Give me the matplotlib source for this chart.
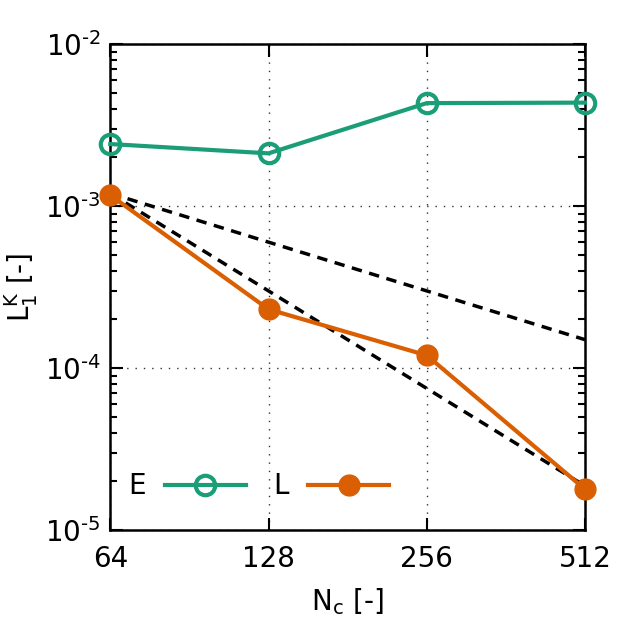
import numpy as np
import matplotlib
matplotlib.use('Agg')
import matplotlib.pyplot as plt
from matplotlib.ticker import FixedLocator, LogLocator, NullFormatter, NullLocator, FuncFormatter

# data
n_cells = [64, 128, 256, 512]
err_E = [2.42e-3, 2.12e-3, 4.33e-3, 4.36e-3]
err_L = [1.17e-3, 2.31e-4, 1.20e-4, 1.79e-5]
ref_start = 1.2e-3  # reference slopes start here at N=64
ref_orders = [1, 2]

green = '#1b9e77'
orange = '#d95f02'

plt.rcParams['font.size'] = 20
plt.rcParams['mathtext.default'] = 'regular'

fig = plt.figure(figsize=(6.23, 6.23), dpi=100)
ax = fig.add_axes([0.177, 0.149, 0.762, 0.780])

# order-of-accuracy reference lines
n_ref = np.array([n_cells[0], n_cells[-1]], dtype=float)
for p in ref_orders:
    ax.plot(n_ref, ref_start * (n_ref / n_ref[0]) ** (-p), '--', color='black', lw=2.5,
            dashes=(3, 2.2), zorder=2)

ax.plot(n_cells, err_E, '-o', color=green, lw=3, ms=14, mfc='none', mew=3,
        label='E', zorder=3, clip_on=False)
ax.plot(n_cells, err_L, '-o', color=orange, lw=3, ms=15, mfc=orange, mec=orange,
        label='L', zorder=3, clip_on=False)

ax.set_xscale('log', base=2)
ax.set_yscale('log')
ax.set_xlim(64, 512)
ax.set_ylim(1e-5, 1e-2)

ax.xaxis.set_major_locator(FixedLocator(n_cells))
ax.set_xticklabels([str(n) for n in n_cells])
ax.xaxis.set_minor_locator(NullLocator())
ax.yaxis.set_major_locator(LogLocator(base=10, numticks=10))
ax.yaxis.set_major_formatter(FuncFormatter(
    lambda v, pos: r'10$^{\text{-}%d}$' % round(-np.log10(v))))
ax.yaxis.set_minor_locator(LogLocator(base=10, subs=np.arange(2, 10), numticks=10))
ax.yaxis.set_minor_formatter(NullFormatter())

ax.tick_params(which='both', direction='in', top=True, right=True, width=1.5)
ax.tick_params(which='major', length=9)
ax.tick_params(axis='y', which='major', pad=7)
ax.tick_params(axis='x', which='major', pad=11)
ax.tick_params(which='minor', length=5)
for s in ax.spines.values():
    s.set_linewidth(1.8)

ax.grid(True, which='major', linestyle=(0, (1, 5)), color='black', lw=1.0, alpha=0.8)

ax.set_xlabel('$N_c$ [-]', labelpad=9)
ax.set_ylabel('$L_1^K$ [-]', labelpad=3)

ax.legend(loc='lower left', bbox_to_anchor=(-0.015, 0.01), ncol=2, frameon=False,
          markerfirst=False, handlelength=2.9, columnspacing=1.0, handletextpad=0.7,
          fontsize=20)

fig.savefig('out.png', dpi=100)
